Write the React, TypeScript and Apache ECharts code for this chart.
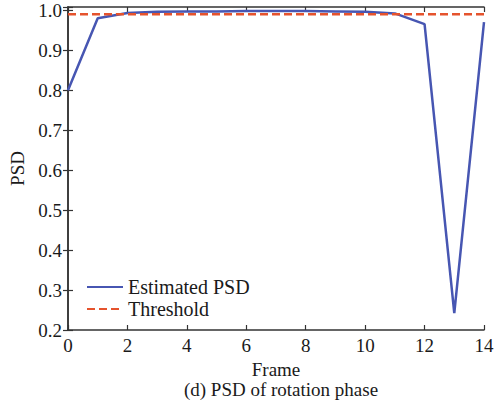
import React, { useEffect, useRef } from "react";
import * as echarts from "echarts";

const frames = [0, 1, 2, 3, 4, 5, 6, 7, 8, 9, 10, 11, 12, 13, 14];
const estimatedPSD = [0.8, 0.98, 0.993, 0.996, 0.997, 0.997, 0.998, 0.998, 0.998, 0.997, 0.996, 0.992, 0.965, 0.242, 0.97];
const thresholdValue = 0.99;
const thresholdFrames = [0, 14];

const serif = "Liberation Serif";

export default function App() {
  const ref = useRef<HTMLDivElement>(null);
  useEffect(() => {
    if (!ref.current) return;
    const chart = echarts.init(ref.current, undefined, { renderer: "svg" });
    const fmt = (v: number) =>
      Math.abs(v * 10 - Math.round(v * 10)) < 1e-6 ? v.toFixed(1) : "";
    const axisLine = { show: true, lineStyle: { color: "#333", width: 1.5 } };
    const tick = { show: true, inside: true, length: 5, lineStyle: { color: "#333", width: 1.2 } };
    chart.setOption({
      animation: false,
      backgroundColor: "#fff",
      grid: { left: 68, right: 20, top: 7, bottom: 73, containLabel: false },
      legend: {
        orient: "vertical",
        left: 81,
        top: 272,
        itemWidth: 36,
        itemHeight: 14,
        itemGap: 2,
        itemStyle: { opacity: 0 },
        textStyle: { fontFamily: serif, fontSize: 20, lineHeight: 20, color: "#1a1a1a" },
        data: ["Estimated PSD", "Threshold"],
      },
      xAxis: [
        {
          type: "value",
          min: 0,
          max: 14,
          interval: 2,
          name: "Frame",
          nameLocation: "middle",
          nameGap: 24,
          nameTextStyle: { fontFamily: serif, fontSize: 19, color: "#1a1a1a" },
          axisLine,
          axisTick: tick,
          axisLabel: { fontFamily: serif, fontSize: 19, color: "#1a1a1a", margin: 6 },
          splitLine: { show: false },
        },
        {
          type: "value",
          position: "top",
          min: 0,
          max: 14,
          interval: 2,
          axisLine,
          axisTick: tick,
          axisLabel: { show: false },
          splitLine: { show: false },
        },
      ],
      yAxis: [
        {
          type: "value",
          min: 0.2,
          max: 1.008,
          interval: 0.1,
          name: "PSD",
          nameLocation: "middle",
          nameGap: 40,
          nameTextStyle: { fontFamily: serif, fontSize: 19, color: "#1a1a1a" },
          axisLine,
          axisTick: tick,
          axisLabel: { fontFamily: serif, fontSize: 19, color: "#1a1a1a", margin: 6, formatter: fmt },
          splitLine: { show: false },
        },
        {
          type: "value",
          position: "right",
          min: 0.2,
          max: 1.008,
          interval: 0.1,
          axisLine,
          axisTick: tick,
          axisLabel: { show: false },
          splitLine: { show: false },
        },
      ],
      title: {
        text: "(d) PSD of rotation phase",
        left: 276,
        textAlign: "center",
        top: 375,
        textStyle: { fontFamily: serif, fontSize: 19, fontWeight: "normal", color: "#1a1a1a" },
      },
      series: [
        {
          name: "Estimated PSD",
          type: "line",
          symbol: "none",
          data: frames.map((f, i) => [f, estimatedPSD[i]]),
          lineStyle: { color: "#4756b2", width: 2.5 },
          itemStyle: { color: "#4756b2" },
          z: 2,
        },
        {
          name: "Threshold",
          type: "line",
          symbol: "none",
          data: thresholdFrames.map((f) => [f, thresholdValue]),
          lineStyle: { color: "#e5532d", width: 2.5, type: [8, 4] },
          itemStyle: { color: "#e5532d" },
          z: 3,
        },
      ],
    });
    return () => chart.dispose();
  }, []);
  return <div ref={ref} style={{ width: 504, height: 403, position: "absolute", left: 0, top: 0 }} />;
}
